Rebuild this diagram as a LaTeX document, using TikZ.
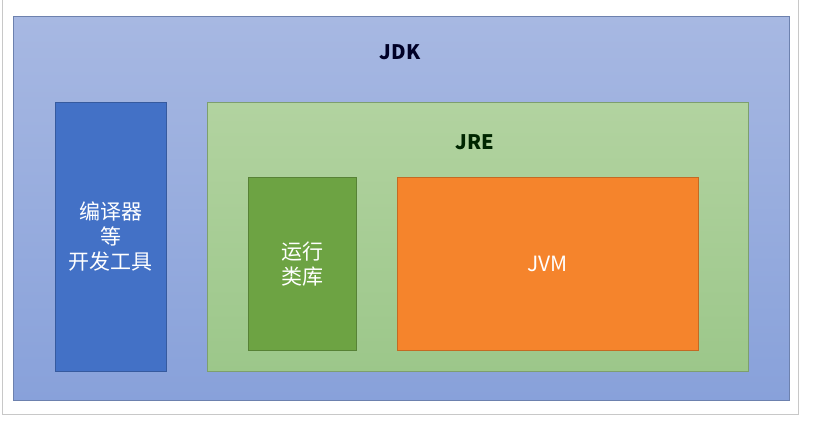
\documentclass[tikz,border=0pt]{standalone}
\usepackage{fontspec}
\setmainfont{Noto Sans CJK SC}
\usetikzlibrary{backgrounds}
\definecolor{jdktop}{HTML}{A7B8E2}
\definecolor{jdkbot}{HTML}{88A1DA}
\definecolor{jretop}{HTML}{B2D3A0}
\definecolor{jrebot}{HTML}{9CC78A}
\definecolor{toolblue}{HTML}{4371C6}
\definecolor{libgreen}{HTML}{6DA343}
\definecolor{jvmorange}{HTML}{F5842C}
\definecolor{pageline}{HTML}{C8C8C8}
\tikzset{
 layer/.style={draw=#1!80!black, line width=.6pt, inner sep=0pt, anchor=north west},
 part/.style={layer=#1, fill=#1},
 boxtext/.style={text=white, font=\fontsize{21}{25}\selectfont, align=center},
 headtext/.style={font=\fontsize{20}{24}\selectfont\bfseries}
}

\begin{document}
\begin{tikzpicture}[x=1pt, y=-1pt]
\useasboundingbox (0,0) rectangle (815,425);
\fill[white] (0,0) rectangle (815,425);
% page edges of the screenshot
\draw[pageline, thin] (2,0) -- (2,414) -- (798,414) -- (798,0);
% outer layer
\node[layer=jdkbot, top color=jdktop, bottom color=jdkbot, minimum width=776pt, minimum height=384pt] (jdk) at (13,16) {};
\node[headtext, text=black!85!blue] (jdklabel) at (400,52) {JDK};
\node[part=toolblue, minimum width=111pt, minimum height=269pt] (tools) at (55,102) {};
\node[boxtext] (toolstext) at (tools.center) {编译器\\等\\开发工具};
% runtime layer
\node[layer=jrebot, top color=jretop, bottom color=jrebot, minimum width=541pt, minimum height=269pt] (jre) at (207,102) {};
\node[headtext, text=black!85!green] (jrelabel) at (475,142) {JRE};
\node[part=libgreen, minimum width=108pt, minimum height=173pt] (lib) at (248,177) {};
\node[boxtext] (libtext) at (lib.center) {运行\\类库};
\node[part=jvmorange, minimum width=301pt, minimum height=173pt] (jvm) at (397,177) {};
\node[boxtext] (jvmtext) at (jvm.center) {JVM};
\end{tikzpicture}
\end{document}
